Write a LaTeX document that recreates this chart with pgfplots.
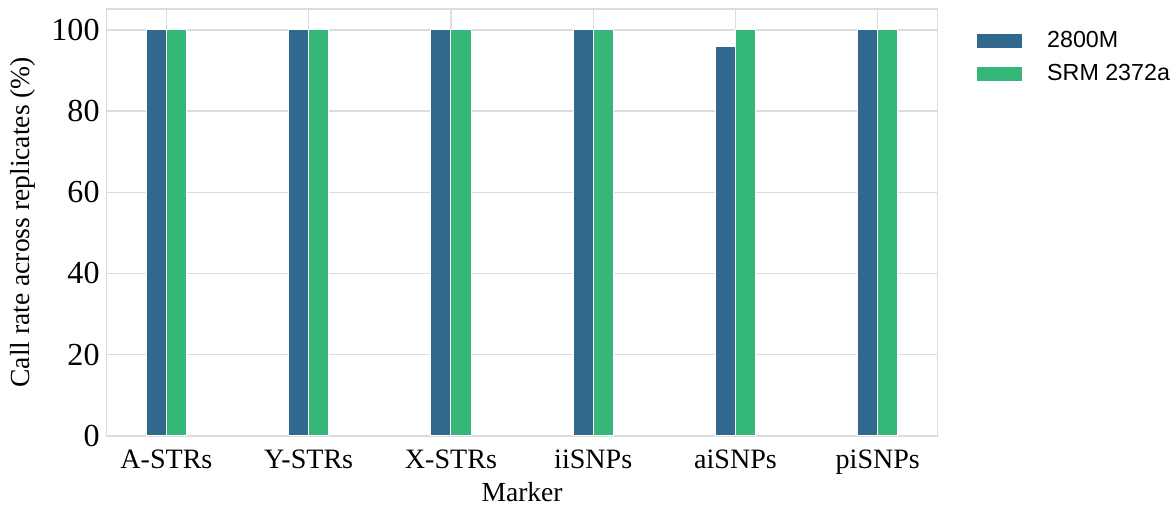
\documentclass[border={2pt 2pt 0pt 4pt}]{standalone}
\usepackage{fontspec}
\setmainfont{Liberation Serif}
\newfontfamily\legfont{Liberation Sans}
\usepackage{pgfplots}
\pgfplotsset{compat=1.18}
\definecolor{cblue}{HTML}{31688E}
\definecolor{cgreen}{HTML}{35B779}
\definecolor{gridc}{HTML}{DCDCDC}
\begin{document}
\begin{tikzpicture}
\begin{axis}[
  scale only axis,
  width=414.5pt, height=213pt,
  xmin=-0.42, xmax=5.42,
  ymin=0, ymax=105.2,
  xtick={0,1,2,3,4,5},
  xticklabels={A-STRs,Y-STRs,X-STRs,iiSNPs,aiSNPs,piSNPs},
  ytick={0,20,40,60,80,100},
  ymajorgrids, xmajorgrids,
  grid style={gridc, line width=0.6pt},
  axis line style={gridc, line width=0.8pt},
  major tick length=0pt,
  tick label style={font=\fontsize{14}{16}\selectfont},
  xticklabel style={yshift=-3.5pt},
  yticklabel style={font=\fontsize{16}{18}\selectfont},
  /pgf/number format/assume math mode=true,
  xlabel={Marker}, ylabel={Call rate across replicates (\%)},
  label style={font=\fontsize{13.75}{15}\selectfont},
  xlabel style={yshift=3pt},
  ylabel style={yshift=1pt},
  ybar=0pt, bar width=10pt,
  legend style={at={(1,1)}, anchor=north west, xshift=19.5pt, yshift=-9pt, draw=none,
    inner sep=0pt,
    font=\legfont\fontsize{11.6}{13}\selectfont, row sep=3pt,
    nodes={inner xsep=2pt}},
  legend cell align=left,
  legend image code/.code={\fill[#1, draw=none] (0cm,-3.5pt) rectangle (22.5pt,3.5pt); \path[draw=none,fill=none] (0,0) -- (33pt,0);},
]
\addplot[fill=cblue, draw=white, line width=0.5pt] coordinates {(0,100) (1,100) (2,100) (3,100) (4,96) (5,100)};
\addplot[fill=cgreen, draw=white, line width=0.5pt] coordinates {(0,100) (1,100) (2,100) (3,100) (4,100) (5,100)};
\legend{2800M, SRM 2372a}
\end{axis}
\end{tikzpicture}
\end{document}
